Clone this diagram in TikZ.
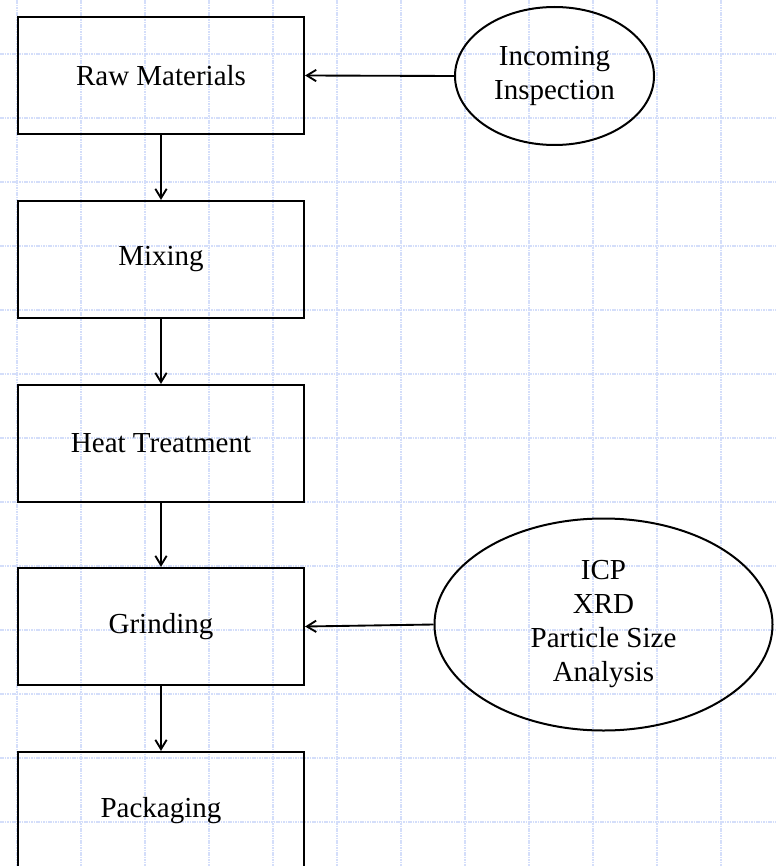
\documentclass[tikz,border=0pt]{standalone}
\usepackage{fontspec}
\setmainfont{Liberation Serif}
\usetikzlibrary{shapes.geometric,arrows.meta}
\definecolor{gridblue}{RGB}{212,222,250}
\begin{document}
\begin{tikzpicture}[x=0.75pt,y=-0.75pt,
  stepbox/.style={draw=black,line width=1.6pt,rectangle,minimum width=214.5pt,minimum height=87.75pt,inner sep=0pt,font=\fontsize{21.75}{25.5}\selectfont,align=center},
  oval/.style={draw=black,line width=1.5pt,ellipse,inner sep=0pt,font=\fontsize{21.75}{25.5}\selectfont,align=center},
  flow/.style={line width=1.4pt,-{Straight Barb[length=7pt,width=8.5pt,line width=1.4pt]}},
  gridline/.style={gridblue,line width=0.9pt,dash pattern=on 1.2pt off 0.6pt}]
\useasboundingbox (0,0) rectangle (776,866);
\clip (0,0) rectangle (776,866);
\fill[white] (0,0) rectangle (776,866);
\foreach \k in {0,...,11} \draw[gridline] (17+64*\k,0) -- (17+64*\k,866);
\foreach \k in {0,...,12} \draw[gridline] (0,54+64*\k) -- (776,54+64*\k);
\node[stepbox] (raw) at (161,75.5) {Raw Materials};
\node[stepbox] (mix) at (161,259.5) {Mixing};
\node[stepbox] (heat) at (161,443.5) {Heat Treatment};
\node[stepbox] (grind) at (161,626.5) {Grinding};
\node[stepbox] (pack) at (161,810.5) {Packaging};
\node[oval,minimum width=149.25pt,minimum height=103.5pt] (inc) at (554.5,76) {Incoming\\Inspection};
\node[oval,minimum width=253.5pt,minimum height=159pt] (ana) at (603.5,624.5) {ICP\\XRD\\Particle Size\\Analysis};
\draw[flow] (raw) -- (mix);
\draw[flow] (mix) -- (heat);
\draw[flow] (heat) -- (grind);
\draw[flow] (grind) -- (pack);
\draw[flow] (inc.west) -- (raw.east);
\draw[flow] (ana.west) -- (grind.east);
\end{tikzpicture}
\end{document}
